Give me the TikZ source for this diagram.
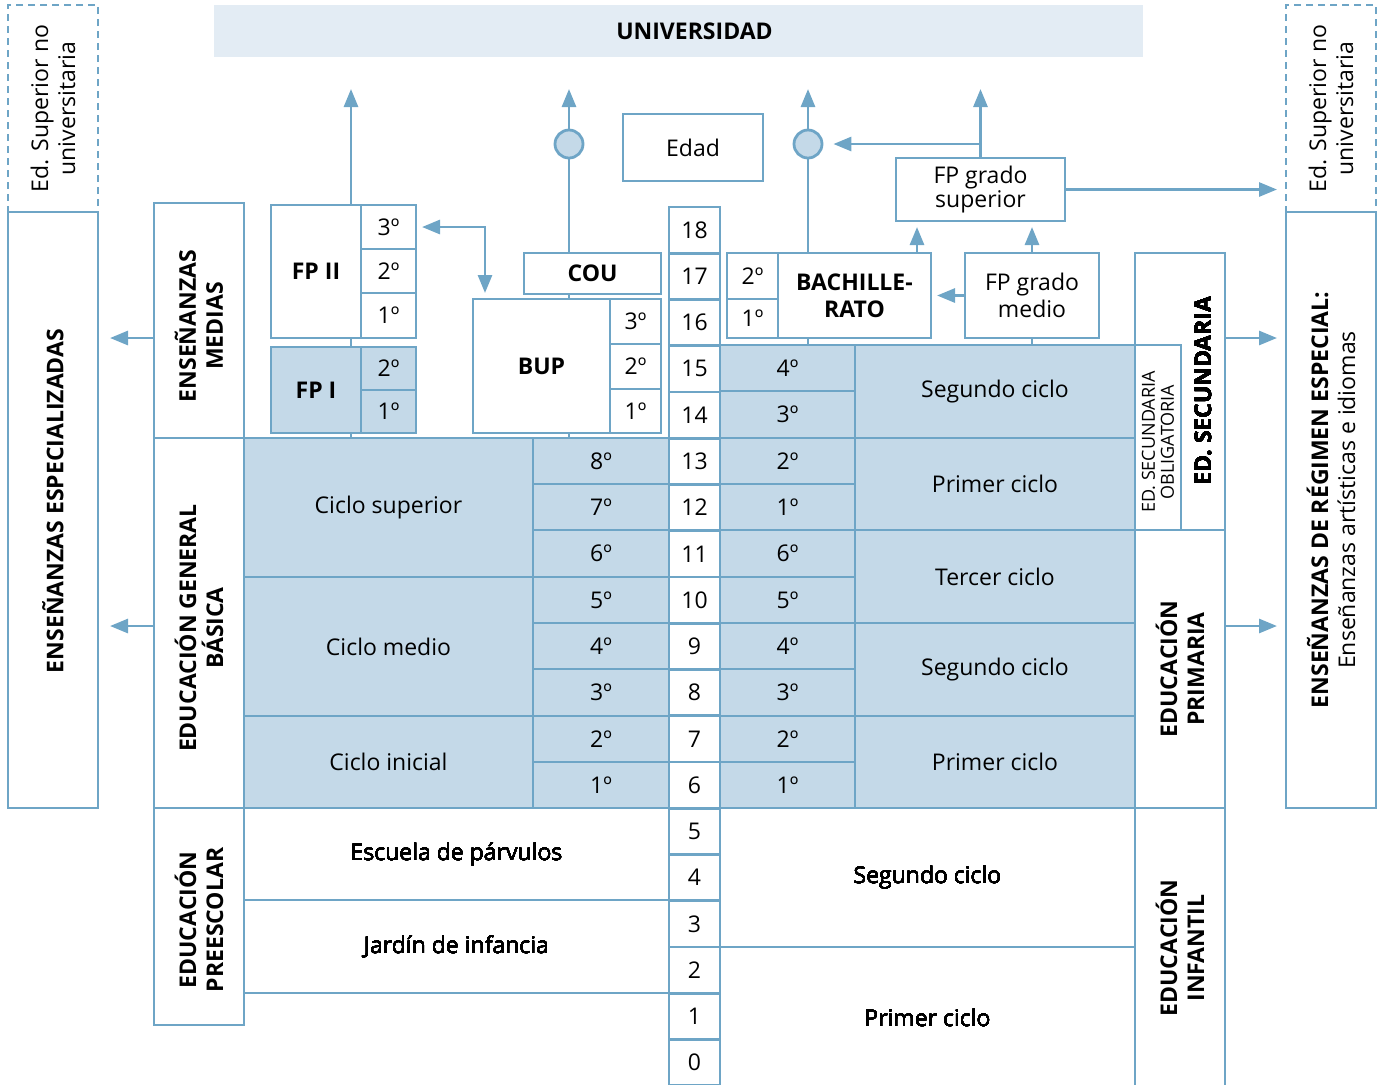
\documentclass[tikz,border=0pt]{standalone}
\usepackage{fontspec}
\setmainfont{Open Sans}
\usetikzlibrary{arrows.meta}
\definecolor{lineblue}{RGB}{110,165,198}
\definecolor{cellblue}{RGB}{196,217,232}
\definecolor{unipale}{RGB}{227,236,244}
% box from (x1,y1) to (x2,y2) in pixel units
\newcommand{\cellbox}[7][]{%
  \pgfmathsetmacro{\cbw}{((#5)-(#3))*0.5}%
  \pgfmathsetmacro{\cbh}{((#6)-(#4))*0.5}%
  \pgfmathsetmacro{\cbx}{((#3)+(#5))/2}%
  \pgfmathsetmacro{\cby}{((#4)+(#6))/2}%
  \node[box,minimum width=\cbw pt,minimum height=\cbh pt,#1] (#2) at (\cbx,\cby) {#7};}
\begin{document}
\fontsize{11.5}{13.5}\selectfont
\begin{tikzpicture}[x=0.5pt,y=-0.5pt,
    box/.style={draw=lineblue,line width=1.4pt,inner sep=0pt,outer sep=0pt,align=center},
    bluecell/.style={fill=cellblue},
    vlab/.style={rotate=90,align=center,font=\bfseries},
    conn/.style={draw=lineblue,line width=1.4pt},
    arr/.style={conn,-{Triangle[length=9pt,width=7pt]},shorten >=3pt},
    arrboth/.style={conn,{Triangle[length=9pt,width=7pt]}-{Triangle[length=9pt,width=7pt]},shorten >=3pt,shorten <=3pt},
    circ/.style={circle,draw=lineblue,fill=cellblue,line width=1.4pt,minimum size=14pt,inner sep=0pt}]
  \useasboundingbox (0,0) rectangle (1388,1084);
  \clip (0,0) rectangle (1388,1084);
  % top
  \cellbox[draw=none,fill=unipale]{uni}{214}{5}{1143}{57}{}
  \node[font=\bfseries] (unilab) at (694.5,31) {UNIVERSIDAD};
  % side boxes
  \cellbox[dash pattern=on 3.5pt off 2.5pt]{ldash}{8}{5}{98}{212}{}
  \node[rotate=90,align=center] (ldashlab) at (ldash) {Ed. Superior no\\universitaria};
  \cellbox{lesp}{8}{212}{98}{808}{}
  \node[vlab] (lesplab) at (53,501) {ENSEÑANZAS ESPECIALIZADAS};
  \cellbox[dash pattern=on 3.5pt off 2.5pt]{rdash}{1286}{5}{1376}{212}{}
  \node[rotate=90,align=center] (rdashlab) at (rdash) {Ed. Superior no\\universitaria};
  \cellbox{resp}{1286}{212}{1376}{808}{}
  \node[rotate=90,align=center] (resplab) at (1331,500) {{\bfseries ENSEÑANZAS DE RÉGIMEN ESPECIAL:}\\Enseñanzas artísticas e idiomas};
  % left labels
  \cellbox{medias}{154}{203}{244}{438}{}
  \node[vlab] (mediaslab) at (199,326) {ENSEÑANZAS\\MEDIAS};
  \cellbox{egb}{154}{438}{244}{808}{}
  \node[vlab] (egblab) at (199,628) {EDUCACIÓN GENERAL\\BÁSICA};
  \cellbox{presc}{154}{808}{244}{1025}{}
  \node[vlab] (presclab) at (199,920) {EDUCACIÓN\\PREESCOLAR};
  % FP
  \cellbox[font=\bfseries]{fp2}{271}{205}{361}{338}{FP II}
  \cellbox{fp2g3}{361}{205}{416}{249}{3º}
  \cellbox{fp2g2}{361}{249}{416}{293}{2º}
  \cellbox{fp2g1}{361}{293}{416}{338}{1º}
  \cellbox[bluecell,font=\bfseries]{fp1}{271}{347}{361}{433}{FP I}
  \cellbox[bluecell]{fp1g2}{361}{347}{416}{390}{2º}
  \cellbox[bluecell]{fp1g1}{361}{390}{416}{433}{1º}
  % COU, BUP
  \cellbox[font=\bfseries]{cou}{524}{253}{661}{294}{COU}
  \cellbox[font=\bfseries]{bup}{473}{299}{610}{433}{BUP}
  \cellbox{bupg3}{610}{299}{661}{344}{3º}
  \cellbox{bupg2}{610}{344}{661}{389}{2º}
  \cellbox{bupg1}{610}{389}{661}{433}{1º}
  \cellbox{edad}{623}{114}{763}{181}{Edad}
  % ages
  \foreach \ag in {0,...,18}
    \cellbox{age\ag}{669}{207+(18-\ag)*46.25}{720}{253.25+(18-\ag)*46.25}{\ag}
  % EGB
  \cellbox[bluecell]{lg8}{533}{438}{669}{484}{8º}
  \cellbox[bluecell]{lg7}{533}{484}{669}{530}{7º}
  \cellbox[bluecell]{lg6}{533}{530}{669}{577}{6º}
  \cellbox[bluecell]{lg5}{533}{577}{669}{623}{5º}
  \cellbox[bluecell]{lg4}{533}{623}{669}{669}{4º}
  \cellbox[bluecell]{lg3}{533}{669}{669}{716}{3º}
  \cellbox[bluecell]{lg2}{533}{716}{669}{762}{2º}
  \cellbox[bluecell]{lg1}{533}{762}{669}{808}{1º}
  \cellbox[bluecell]{csup}{244}{438}{533}{577}{Ciclo superior}
  \cellbox[bluecell]{cmed}{244}{577}{533}{716}{Ciclo medio}
  \cellbox[bluecell]{cini}{244}{716}{533}{808}{Ciclo inicial}
  \cellbox{parv}{244}{808}{669}{900}{Escuela de párvulos}
  \cellbox{jard}{244}{900}{669}{993}{Jardín de infancia}
  % secundaria, primaria
  \cellbox[bluecell]{sg4}{720}{345}{855}{391}{4º}
  \cellbox[bluecell]{sg3}{720}{391}{855}{438}{3º}
  \cellbox[bluecell]{sg2}{720}{438}{855}{484}{2º}
  \cellbox[bluecell]{sg1}{720}{484}{855}{530}{1º}
  \cellbox[bluecell]{pg6}{720}{530}{855}{577}{6º}
  \cellbox[bluecell]{pg5}{720}{577}{855}{623}{5º}
  \cellbox[bluecell]{pg4}{720}{623}{855}{669}{4º}
  \cellbox[bluecell]{pg3}{720}{669}{855}{716}{3º}
  \cellbox[bluecell]{pg2}{720}{716}{855}{762}{2º}
  \cellbox[bluecell]{pg1}{720}{762}{855}{808}{1º}
  \cellbox[bluecell]{esoc2}{855}{345}{1135}{438}{Segundo ciclo}
  \cellbox[bluecell]{esoc1}{855}{438}{1135}{530}{Primer ciclo}
  \cellbox[bluecell]{primc3}{855}{530}{1135}{623}{Tercer ciclo}
  \cellbox[bluecell]{primc2}{855}{623}{1135}{716}{Segundo ciclo}
  \cellbox[bluecell]{primc1}{855}{716}{1135}{808}{Primer ciclo}
  \cellbox{infc2}{720}{808}{1135}{947}{Segundo ciclo}
  \cellbox{infc1}{720}{947}{1135}{1088}{Primer ciclo}
  \cellbox{secund}{1135}{253}{1225}{530}{}
  \node[vlab] (secundlab) at (1203,391) {ED. SECUNDARIA};
  \cellbox{eso}{1135}{345}{1181}{530}{}
  \node[rotate=90,align=center,font=\fontsize{9}{9.5}\selectfont] (esolab) at (1158,442) {ED. SECUNDARIA\\OBLIGATORIA};
  \cellbox{prim}{1135}{530}{1225}{808}{}
  \node[vlab] (primlab) at (prim) {EDUCACIÓN\\PRIMARIA};
  \cellbox{infant}{1135}{808}{1225}{1088}{}
  \node[vlab] (infantlab) at (1180,948) {EDUCACIÓN\\INFANTIL};
  % bachillerato, FP grados
  \cellbox{bachg2}{727}{253}{778}{299}{2º}
  \cellbox{bachg1}{727}{299}{778}{338}{1º}
  \cellbox[font=\bfseries]{bach}{778}{253}{931}{338}{BACHILLE-\\RATO}
  \cellbox{fpmed}{965}{253}{1099}{338}{FP grado\\medio}
  \cellbox[font=\fontsize{11.5}{12}\selectfont]{fpsup}{896}{158}{1065}{221}{FP grado\\superior}
  \node[circ] (c1) at (569,144) {};
  \node[circ] (c2) at (808,144) {};
  % connectors
  \coordinate (tipy) at (0,83);
  \coordinate (upfp) at (351,0);
  \coordinate (xbup) at (485,0);
  \coordinate (xbach) at (917,0);
  \coordinate (ya) at (0,338);
  \coordinate (yb) at (0,626);
  \draw[arr] (fp2.north -| upfp) -- (upfp |- tipy);
  \draw[conn] (fp2.south -| upfp) -- (fp1.north -| upfp);
  \draw[conn] (fp1.south -| upfp) -- (csup.north -| upfp);
  \draw[arrboth] (fp2g3.east) -| (bup.north -| xbup);
  \draw[conn] (cou.north -| c1) -- (c1);
  \draw[arr] (c1) -- (c1 |- tipy);
  \draw[conn] (cou.south -| c1) -- (bup.north -| c1);
  \draw[conn] (bup.south -| c1) -- (lg8.north -| c1);
  \draw[conn] (bach.north -| c2) -- (c2);
  \draw[arr] (c2) -- (c2 |- tipy);
  \draw[conn] (bach.south -| c2) -- (sg4.north -| c2);
  \draw[arr] (fpsup.north) -- (fpsup.north |- tipy);
  \draw[arr,shorten >=5pt] (fpsup.north |- c2) -- (c2);
  \draw[arr] (bach.north -| xbach) -- (fpsup.south -| xbach);
  \draw[arr] (fpmed.north) -- (fpmed.north |- fpsup.south);
  \draw[arr] (fpmed.west) -- (bach.east);
  \draw[conn] (fpmed.south) -- (fpmed.south |- esoc2.north);
  \draw[arr,shorten >=4.5pt] (fpsup.east) -- (fpsup.east -| rdash.west);
  \draw[arr,shorten >=4.5pt] (secund.east |- ya) -- (resp.west |- ya);
  \draw[arr,shorten >=4.5pt] (prim.east |- yb) -- (resp.west |- yb);
  \draw[arr,shorten >=6pt] (medias.west |- ya) -- (lesp.east |- ya);
  \draw[arr,shorten >=6pt] (egb.west |- yb) -- (lesp.east |- yb);
\end{tikzpicture}
\end{document}
